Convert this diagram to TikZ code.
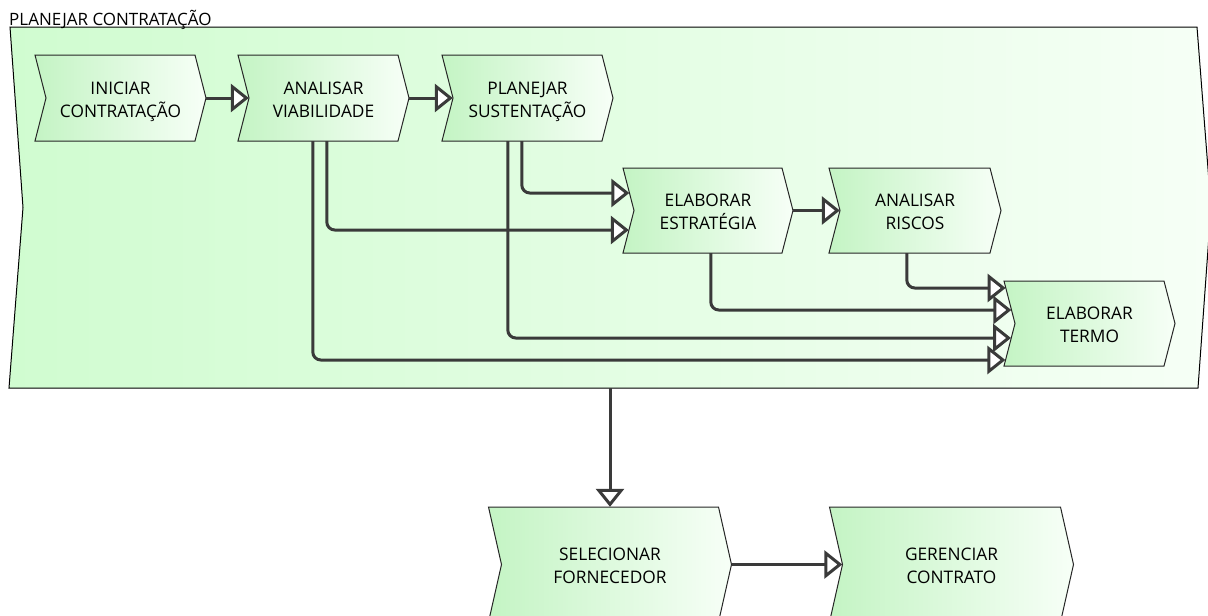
\documentclass[tikz,border=0pt]{standalone}
\usepackage{fontspec}
\setmainfont{Open Sans}
\usetikzlibrary{arrows.meta,calc}

\definecolor{boxL}{RGB}{196,244,196}
\definecolor{boxR}{RGB}{247,255,247}
\definecolor{contL}{RGB}{208,252,208}
\definecolor{contR}{RGB}{246,255,246}
\definecolor{linecol}{RGB}{58,58,58}

\tikzset{
  procshape/.style={draw=black!85, line width=1pt, line join=miter, left color=boxL, right color=boxR},
  contshape/.style={draw=black, line width=1pt, line join=miter, left color=contL, right color=contR},
  proctext/.style={rectangle, draw=none, inner sep=0pt, align=center,
    font=\fontsize{17.3}{23}\selectfont, text=black},
  conn/.style={draw=linecol, line width=3pt, rounded corners=8pt,
    -{Triangle[open, fill=white, length=18pt, width=28pt]}},
}

% process chevron: name, left x, top y, full width, height, pointer depth, text
\newcommand\procchevron[7]{%
  \path[procshape] (#2,#3) -- ({#2+#4-#6},#3) -- ({#2+#4},{#3+#5/2})
    -- ({#2+#4-#6},{#3+#5}) -- (#2,{#3+#5}) -- ({#2+#6},{#3+#5/2}) -- cycle;
  \node[proctext, minimum width=#4pt, minimum height=#5pt] (#1)
    at ({#2+#4/2},{#3+#5/2})
    {\raisebox{-3pt}[\height][\depth]{\begin{tabular}{@{}c@{}}#7\end{tabular}}};
}

\begin{document}
\begin{tikzpicture}[x=1pt, y=-1pt]
\useasboundingbox (0,0) rectangle (1208,616);
\clip (0,0) rectangle (1208,616);
\fill[white] (0,0) rectangle (1208,616);

% enclosing process
\path[contshape] (10,27) -- (1197,27) -- (1211,207.5) -- (1198,388)
  -- (9,388) -- (23,207.5) -- cycle;
\node[rectangle, inner sep=0pt, minimum width=1188pt, minimum height=361pt]
  (cont) at (604,207.5) {};
\node[anchor=base west, inner sep=0pt, font=\fontsize{17}{20}\selectfont]
  (title) at (9,25) {PLANEJAR CONTRATAÇÃO};

% sub-processes
\procchevron{init}{35}{55}{171}{86}{11}{INICIAR\\CONTRATAÇÃO}
\procchevron{viab}{238}{55}{171}{86}{11}{ANALISAR\\VIABILIDADE}
\procchevron{sust}{442}{55}{171}{86}{11}{PLANEJAR\\SUSTENTAÇÃO}
\procchevron{estr}{623}{168}{170}{85}{11}{ELABORAR\\ESTRATÉGIA}
\procchevron{risc}{829}{168}{172}{85}{11}{ANALISAR\\RISCOS}
\procchevron{termo}{1004}{281}{171}{85}{11}{ELABORAR\\TERMO}
\procchevron{sel}{488.5}{507}{243}{115}{13}{SELECIONAR\\FORNECEDOR}
\procchevron{ger}{829.5}{507}{244}{115}{13}{GERENCIAR\\CONTRATO}

% sequence flow
\draw[conn] (init.east) -- ($(viab.west)+(11,0)$);
\draw[conn] (viab.east) -- ($(sust.west)+(11,0)$);
\draw[conn] (estr.east) -- ($(risc.west)+(11,0)$);
\draw[conn] (sel.east) -- ($(ger.west)+(13,0)$);
\draw[conn] (cont.south -| sel.north) -- (sel.north);

% branches into ELABORAR ESTRATÉGIA
\draw[conn] ($(sust.south west)+(80,0)$) |- ($(estr.west)+(6.5,-17.5)$);
\draw[conn] ($(viab.south west)+(89,0)$) |- ($(estr.west)+(6,19.5)$);

% branches into ELABORAR TERMO
\draw[conn] ($(risc.south west)+(78,0)$) |- ($(termo.west)+(1.8,-35.5)$);
\draw[conn] ($(estr.south west)+(88,0)$) |- ($(termo.west)+(7.5,-13.5)$);
\draw[conn] ($(sust.south west)+(66,0)$) |- ($(termo.west)+(7.2,14.5)$);
\draw[conn] ($(viab.south west)+(75,0)$) |- ($(termo.west)+(1.6,36.5)$);
\end{tikzpicture}
\end{document}
